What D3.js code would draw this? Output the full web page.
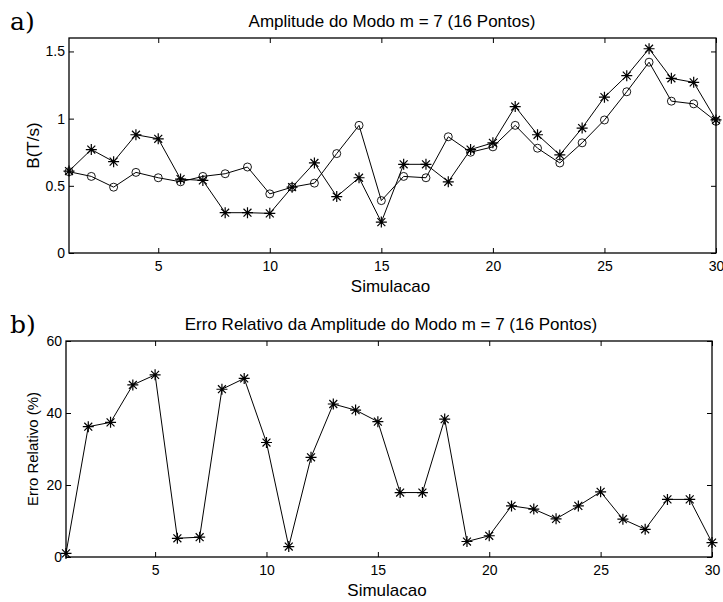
<!DOCTYPE html>
<html><head><meta charset="utf-8">
<script src="https://cdn.jsdelivr.net/npm/d3@7"></script>
<style>body{margin:0;background:#fff}svg{display:block}</style>
</head><body>
<svg id="c" width="723" height="602"></svg>
<script>
const simulacao = d3.range(1, 31);
const ampStar = [0.61,0.77,0.68,0.88,0.85,0.55,0.54,0.30,0.30,0.295,0.49,0.67,0.42,0.56,0.23,0.66,0.66,0.53,0.77,0.82,1.09,0.88,0.73,0.93,1.16,1.32,1.52,1.30,1.27,0.99];
const ampCircle = [0.605,0.57,0.49,0.60,0.56,0.53,0.57,0.59,0.64,0.44,0.49,0.52,0.74,0.95,0.39,0.57,0.56,0.865,0.75,0.79,0.95,0.78,0.67,0.82,0.99,1.20,1.42,1.13,1.11,0.98];
const erro = [1.0,36.2,37.4,47.8,50.6,5.2,5.5,46.6,49.6,31.8,2.9,27.7,42.5,40.8,37.6,17.9,17.9,38.3,4.3,5.9,14.2,13.3,10.6,14.2,18.1,10.5,7.7,16.0,16.0,4.0];
const xTicks = [5,10,15,20,25,30];
const yTicksA = [0,0.5,1,1.5];
const yTicksB = [0,20,40,60];

const svg = d3.select("#c");
const font = "'Liberation Sans', Arial, sans-serif";

function panel(cfg){
  const g = svg.append("g");
  const x = d3.scaleLinear().domain([1,30]).range([cfg.left, cfg.right]);
  const y = d3.scaleLinear().domain(cfg.yDomain).range([cfg.bottom, cfg.top]);
  const tl = 5;
  g.append("rect").attr("x",cfg.left).attr("y",cfg.top)
    .attr("width",cfg.right-cfg.left).attr("height",cfg.bottom-cfg.top)
    .attr("fill","none").attr("stroke","#000").attr("stroke-width",1.3);
  const axB = d3.axisBottom(x).tickValues(xTicks).tickSize(-tl).tickPadding(8).tickFormat(d3.format("d"));
  const axT = d3.axisTop(x).tickValues(xTicks).tickSize(-tl).tickFormat("");
  const axL = d3.axisLeft(y).tickValues(cfg.yTicks).tickSize(-tl).tickPadding(4).tickFormat(d=>String(d));
  const axR = d3.axisRight(y).tickValues(cfg.yTicks).tickSize(-tl).tickFormat("");
  [[axB,`translate(0,${cfg.bottom})`],[axT,`translate(0,${cfg.top})`],[axL,`translate(${cfg.left},0)`],[axR,`translate(${cfg.right},0)`]].forEach(([a,t])=>{
    const ag = g.append("g").attr("transform",t).call(a);
    ag.select(".domain").remove();
    ag.selectAll("line").attr("stroke","#000");
    ag.selectAll("text").attr("font-family",font).attr("font-size",14).attr("fill","#000");
  });
  g.append("text").attr("x",(cfg.left+cfg.right)/2-2).attr("y",cfg.bottom+39)
    .attr("text-anchor","middle").attr("font-family",font).attr("font-size",17).text("Simulacao");
  g.append("text").attr("x",cfg.titleX).attr("y",cfg.top-11)
    .attr("text-anchor","middle").attr("font-family",font).attr("font-size",17).text(cfg.title);
  g.append("text").attr("transform",`translate(${cfg.ylabelX},${(cfg.top+cfg.bottom)/2}) rotate(-90)`)
    .attr("text-anchor","middle").attr("font-family",font).attr("font-size",cfg.ylabelSize).text(cfg.ylabel);
  g.append("text").attr("x",10).attr("y",cfg.top-cfg.letterOff)
    .attr("font-family","'DejaVu Serif', 'Liberation Serif', serif").attr("font-size",25).text(cfg.letter);
  return {g,x,y};
}

function starPath(cx,cy,r){
  const d = r*0.72;
  return `M${cx-r},${cy}L${cx+r},${cy}M${cx},${cy-r}L${cx},${cy+r}M${cx-d},${cy-d}L${cx+d},${cy+d}M${cx-d},${cy+d}L${cx+d},${cy-d}`;
}

function drawSeries(p, vals, marker){
  const line = d3.line().x((d,i)=>p.x(simulacao[i])).y(d=>p.y(d));
  p.g.append("path").datum(vals).attr("d",line).attr("fill","none").attr("stroke","#000").attr("stroke-width",1);
  if(marker==="star"){
    p.g.selectAll(null).data(vals).enter().append("path")
      .attr("d",(d,i)=>starPath(p.x(simulacao[i]),p.y(d),5.5))
      .attr("stroke","#000").attr("stroke-width",1.2).attr("fill","none");
  } else {
    p.g.selectAll(null).data(vals).enter().append("circle")
      .attr("cx",(d,i)=>p.x(simulacao[i])).attr("cy",d=>p.y(d)).attr("r",4)
      .attr("stroke","#000").attr("stroke-width",0.9).attr("fill","none");
  }
}

const pA = panel({left:69,right:716,top:38,bottom:253,yDomain:[0,1.6],yTicks:yTicksA,
  title:"Amplitude do Modo m = 7 (16 Pontos)",titleX:392,ylabel:"B(T/s)",ylabelX:39,ylabelSize:17,letter:"a)",letterOff:8});
drawSeries(pA, ampCircle, "circle");
drawSeries(pA, ampStar, "star");

const pB = panel({left:66,right:712,top:341,bottom:557,yDomain:[0,60],yTicks:yTicksB,
  title:"Erro Relativo da Amplitude do Modo m = 7 (16 Pontos)",titleX:391,ylabel:"Erro Relativo (%)",ylabelX:38,ylabelSize:15,letter:"b)",letterOff:8});
drawSeries(pB, erro, "star");
</script>
</body></html>
